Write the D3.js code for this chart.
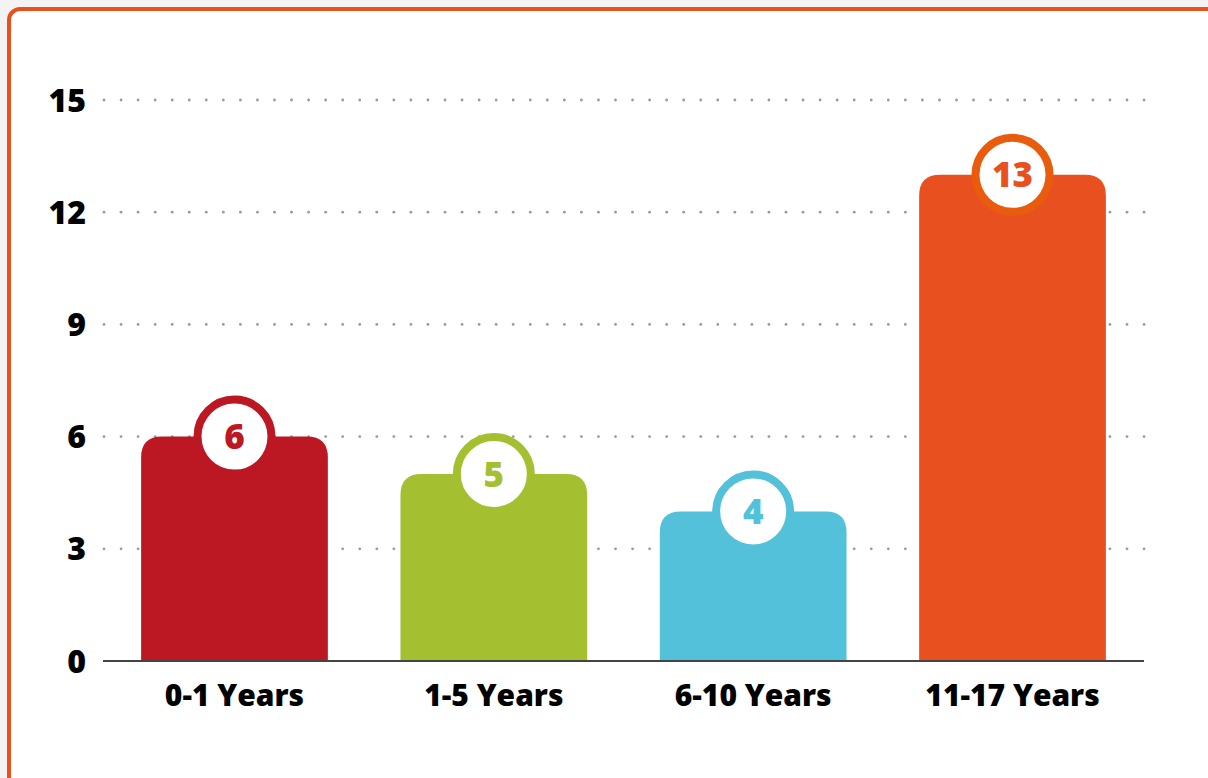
<!DOCTYPE html>
<html>
<head>
<meta charset="utf-8">
<script src="https://cdn.jsdelivr.net/npm/d3@7"></script>
<style>
 body { margin: 0; background: #f3f3f3; }
 svg { display: block; }
</style>
</head>
<body>
<div id="chart"></div>
<script>
// chart data
var categories = ['0-1 Years', '1-5 Years', '6-10 Years', '11-17 Years'];
var counts = [6, 5, 4, 13];
var barColors = ['#bc1823', '#a4c031', '#54c1da', '#e8511f'];
var ringColors = ['#bc1823', '#a4c031', '#54c1da', '#ea5c0d'];
var yTicks = [0, 3, 6, 9, 12, 15];

var width = 1208, height = 778;
var font = '"Open Sans", "DejaVu Sans", sans-serif';

var svg = d3.select('#chart').append('svg')
 .attr('width', width)
 .attr('height', height);

// card frame (orange border, runs off right and bottom)
svg.append('rect')
 .attr('x', 9).attr('y', 9)
 .attr('width', 1220).attr('height', 800)
 .attr('rx', 11)
 .style('fill', '#fff')
 .style('stroke', '#e8511f')
 .style('stroke-width', 4);

var x = d3.scaleBand()
 .domain(categories)
 .range([103, 1144])
 .paddingInner(0.28)
 .paddingOuter(0.147);

var y = d3.scaleLinear()
 .domain([0, 15])
 .range([661, 100]);

// dotted grid lines
var grid = svg.append('g').attr('class', 'grid');
yTicks.filter(function(d){ return d > 0; }).forEach(function(t)
{
 var dots = d3.range(104, 1150, 17.05);
 grid.selectAll(null).data(dots).enter()
  .append('circle')
  .attr('cx', function(d){ return d; })
  .attr('cy', y(t))
  .attr('r', 1.4)
  .style('fill', '#9a9a9a');
});

// y tick labels
svg.append('g').selectAll('text').data(yTicks).enter()
 .append('text')
 .attr('x', 86)
 .attr('y', function(d){ return y(d); })
 .attr('dy', '0.36em')
 .attr('text-anchor', 'end')
 .style('font-family', font)
 .style('font-weight', 800)
 .style('font-size', '32px')
 .style('fill', '#000')
 .text(function(d){ return d; });

// bars with rounded top corners
var r = 21;
function barPath(d, i)
{
 var x0 = x(categories[i]), x1 = x0 + x.bandwidth();
 var yt = y(d), yb = y(0);
 return 'M' + x0 + ',' + yb +
  'V' + (yt + r) +
  'Q' + x0 + ',' + yt + ' ' + (x0 + r) + ',' + yt +
  'H' + (x1 - r) +
  'Q' + x1 + ',' + yt + ' ' + x1 + ',' + (yt + r) +
  'V' + yb + 'Z';
}
svg.append('g').selectAll('path').data(counts).enter()
 .append('path')
 .attr('d', barPath)
 .style('fill', function(d, i){ return barColors[i]; });

// baseline
svg.append('line')
 .attr('x1', 103).attr('x2', 1144)
 .attr('y1', y(0)).attr('y2', y(0))
 .style('stroke', '#444')
 .style('stroke-width', 2);

// value badges
var badges = svg.append('g').selectAll('g').data(counts).enter()
 .append('g')
 .attr('transform', function(d, i){
  return 'translate(' + (x(categories[i]) + x.bandwidth()/2) + ',' + y(d) + ')';
 });
badges.append('circle')
 .attr('r', 37)
 .style('fill', '#fff')
 .style('stroke', function(d, i){ return ringColors[i]; })
 .style('stroke-width', 8);
badges.append('text')
 .attr('dy', '0.36em')
 .attr('text-anchor', 'middle')
 .style('font-family', font)
 .style('font-weight', 800)
 .style('font-size', '35px')
 .style('fill', function(d, i){ return barColors[i]; })
 .text(function(d){ return d; });

// category labels
svg.append('g').selectAll('text').data(categories).enter()
 .append('text')
 .attr('x', function(d){ return x(d) + x.bandwidth()/2; })
 .attr('y', 706)
 .attr('text-anchor', 'middle')
 .style('font-family', font)
 .style('font-weight', 800)
 .style('font-size', '30px')
 .style('fill', '#000')
 .text(function(d){ return d; });
</script>
</body>
</html>
